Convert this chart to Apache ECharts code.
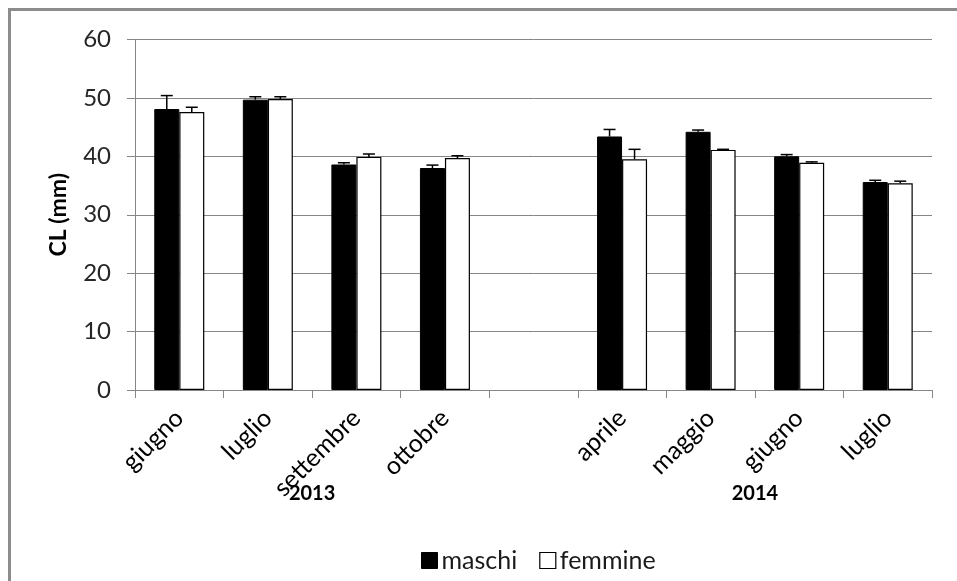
<!DOCTYPE html>
<html>
<head>
<meta charset="utf-8">
<script src="https://cdn.jsdelivr.net/npm/echarts@6/dist/echarts.min.js"></script>
<style>
  html, body { margin: 0; padding: 0; background: #fff; }
  #chart { width: 957px; height: 581px; }
</style>
</head>
<body>
<div id="chart"></div>
<script>
// Months sampled (empty slot separates the two years)
const categories = ['giugno', 'luglio', 'settembre', 'ottobre', '', 'aprile', 'maggio', 'giugno', 'luglio'];
// Mean carapace length (mm)
const maschi   = [48.1, 49.7, 38.6, 38.0, '-', 43.4, 44.2, 40.0, 35.6];
const femmine  = [47.6, 49.8, 39.9, 39.7, '-', 39.5, 41.1, 38.9, 35.4];
// Standard error (drawn upward only)
const maschiErr  = [2.3, 0.5, 0.3, 0.5, '-', 1.2, 0.3, 0.3, 0.3];
const femmineErr = [0.8, 0.4, 0.5, 0.4, '-', 1.7, 0.1, 0.15, 0.35];
const yTicks = { min: 0, max: 60, interval: 10 };
const years = [{ label: '2013', from: 0, to: 3 }, { label: '2014', from: 5, to: 8 }];

const FONT = 'Lato';
const GREY = '#868686';
const BAR_W = 25;

function errData(vals, errs) {
  const out = [];
  vals.forEach((v, i) => {
    if (v !== '-' && errs[i] !== '-') out.push([i, v, errs[i]]);
  });
  return out;
}

function errorRenderer(offset) {
  return function (params, api) {
    const i = api.value(0);
    const v = api.value(1);
    const e = api.value(2);
    const base = api.coord([i, v]);
    const top = api.coord([i, v + e]);
    const x = base[0] + offset;
    const style = { stroke: '#000', lineWidth: 1.5 };
    return {
      type: 'group',
      children: [
        { type: 'line', shape: { x1: x, y1: base[1], x2: x, y2: top[1] }, style },
        { type: 'line', shape: { x1: x - 6, y1: top[1], x2: x + 6, y2: top[1] }, style }
      ]
    };
  };
}

const chart = echarts.init(document.getElementById('chart'), null, { renderer: 'canvas' });

const option = {
  animation: false,
  backgroundColor: '#fff',
  grid: { left: 135, right: 25, top: 39.5, bottom: 191, containLabel: false },
  legend: {
    left: 416, top: 543,
    itemWidth: 16, itemHeight: 16, itemGap: 22,
    textStyle: { fontFamily: FONT, fontSize: 25, color: '#1a1a1a', padding: [0, 0, 0, -1] },
    data: [
      { name: 'maschi', icon: 'rect', itemStyle: { color: '#000', borderColor: '#000', borderWidth: 1 } },
      { name: 'femmine', icon: 'rect', itemStyle: { color: '#fff', borderColor: '#000', borderWidth: 1.2 } }
    ]
  },
  xAxis: {
    type: 'category',
    data: categories,
    axisLine: { lineStyle: { color: GREY, width: 1 } },
    axisTick: { show: true, length: 8, lineStyle: { color: GREY } },
    axisLabel: { rotate: 45, margin: 24, interval: 0, fontFamily: FONT, fontSize: 25, color: '#000' },
    splitLine: { show: false }
  },
  yAxis: {
    type: 'value',
    min: yTicks.min, max: yTicks.max, interval: yTicks.interval,
    name: 'CL (mm)',
    nameLocation: 'middle',
    nameGap: 65,
    nameRotate: 90,
    nameTextStyle: { fontFamily: FONT, fontSize: 23, fontWeight: 'bold', color: '#000' },
    axisLine: { show: true, lineStyle: { color: GREY, width: 1 } },
    axisTick: { show: true, length: 8, lineStyle: { color: GREY } },
    axisLabel: { margin: 24, fontFamily: FONT, fontSize: 24, color: '#262626' },
    splitLine: { show: true, lineStyle: { color: GREY, width: 1 } }
  },
  graphic: [
    { type: 'rect', left: 8, top: 8, z: 100, shape: { width: 960, height: 3 }, style: { fill: '#8c8c8c' } },
    { type: 'rect', left: 8, top: 8, z: 100, shape: { width: 3, height: 580 }, style: { fill: '#8c8c8c' } }
  ],
  series: [
    {
      name: 'maschi', type: 'bar', data: maschi,
      barWidth: BAR_W, barGap: '0%',
      itemStyle: { color: '#000', borderColor: '#000', borderWidth: 1 }
    },
    {
      name: 'femmine', type: 'bar', data: femmine,
      barWidth: BAR_W, barGap: '0%',
      itemStyle: { color: '#fff', borderColor: '#000', borderWidth: 1.2 }
    },
    {
      name: 'maschi-err', type: 'custom', data: errData(maschi, maschiErr),
      renderItem: errorRenderer(-BAR_W / 2), z: 5, silent: true
    },
    {
      name: 'femmine-err', type: 'custom', data: errData(femmine, femmineErr),
      renderItem: errorRenderer(BAR_W / 2), z: 5, silent: true
    }
  ]
};

chart.setOption(option);

// Year captions centred under each group of months
const yearGraphics = years.map(y => {
  const a = chart.convertToPixel({ xAxisIndex: 0 }, y.from);
  const b = chart.convertToPixel({ xAxisIndex: 0 }, y.to);
  return {
    type: 'text', x: (a + b) / 2, y: 494,
    style: { text: y.label, font: 'bold 20px ' + FONT, fill: '#000', textAlign: 'center', textVerticalAlign: 'middle' }
  };
});
chart.setOption({ graphic: option.graphic.concat(yearGraphics) });
</script>
</body>
</html>
